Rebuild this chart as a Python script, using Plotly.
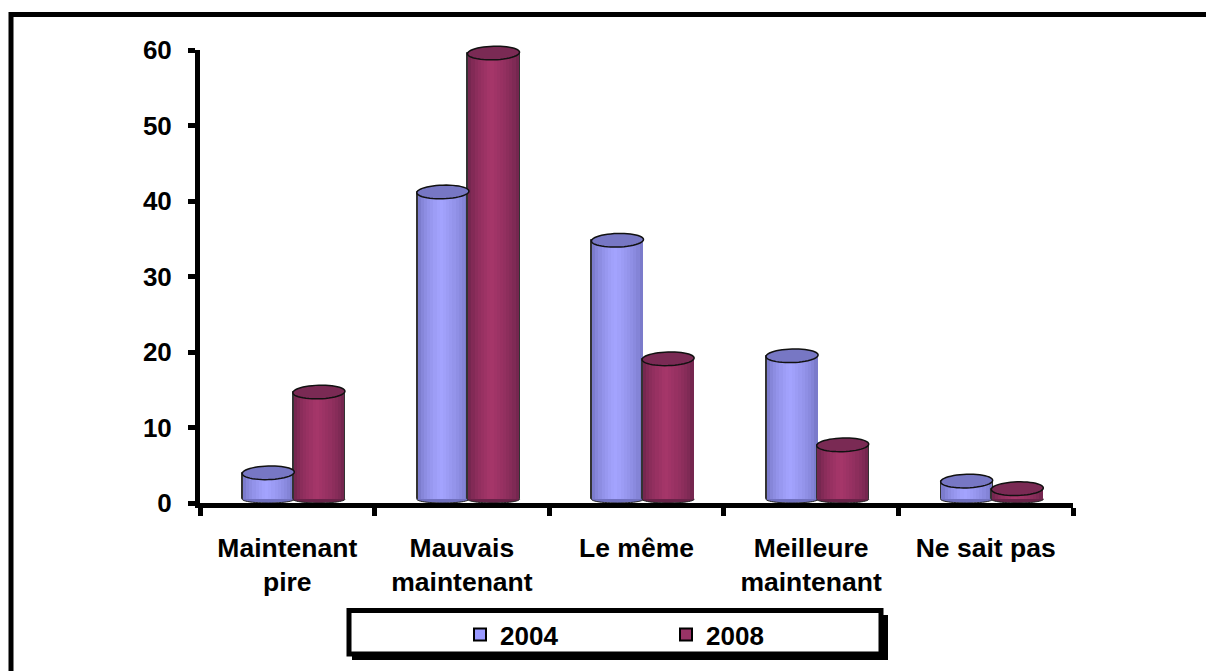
import math
import plotly.graph_objects as go

W, H = 1206, 671
L, R, T, B = 200, 1073, 50, 503

categories = ["Maintenant<br>pire", "Mauvais<br>maintenant", "Le même", "Meilleure<br>maintenant", "Ne sait pas"]
values_2004 = [4.0, 41.2, 34.8, 19.5, 2.9]
values_2008 = [14.7, 59.6, 19.1, 7.7, 1.9]
y_ticks = [0, 10, 20, 30, 40, 50, 60]
Y_MAX = 60

series = [
    dict(name="2004", values=values_2004, start=-0.258, color="#9999FF",
         side=(112, 112, 190), mid=(164, 164, 255), top="#7777C4"),
    dict(name="2008", values=values_2008, start=0.032, color="#993366",
         side=(104, 34, 72), mid=(166, 54, 106), top="#7A2A54"),
]
BAR_W = 0.298
STRIPS = 16
BASE = 0.5
ELL = 0.9
TILT = 0.11


def px(x):
    return (x - L) / (R - L)


def py(y):
    return (B - y) / (B - T)


def ellipse(i, start, v, half_h, tilt):
    """Closed path, in paper units, round a value on the y axis; not clipped by the plot area."""
    x_c = (i + 0.5 + start + BAR_W / 2) / 5
    y_c = v / Y_MAX
    a = BAR_W / 2 / 5
    b = half_h / Y_MAX
    pts = []
    for k in range(48):
        th = 2 * math.pi * k / 48
        dx = a * math.cos(th)
        dy = b * math.sin(th) + tilt * b * math.cos(th)
        pts.append("%s%.5f,%.5f" % ("M" if k == 0 else "L", x_c + dx, y_c + dy))
    return " ".join(pts) + " Z"


fig = go.Figure()
# outer frame comes first so that everything else sits on top of it
shapes = [dict(type="rect", xref="paper", yref="paper", layer="below",
               x0=px(11), x1=px(1240), y0=py(14.5), y1=py(710),
               line=dict(color="black", width=5), fillcolor="white")]

for s in series:
    xs = list(range(len(categories)))
    heights = [v - BASE for v in s["values"]]
    for i, v in enumerate(s["values"]):
        shapes.append(dict(type="path", xref="paper", yref="paper", layer="below",
                           path=ellipse(i, s["start"], BASE, BASE, 0),
                           fillcolor="rgb(%d,%d,%d)" % s["side"], line=dict(color="#222222", width=1)))
    # outline behind the shaded body
    fig.add_trace(go.Bar(x=xs, y=heights, base=BASE, width=BAR_W, offset=s["start"],
                         marker=dict(color="#333333", line=dict(color="#333333", width=1)),
                         showlegend=False, hoverinfo="skip"))
    inset = 0.004
    for k in range(STRIPS):
        t = (k + 0.5) / STRIPS
        f = min(1, t / 0.45) if t < 0.45 else max(0, (1 - t) / 0.55)
        f = f ** 0.55
        col = "rgb(%d,%d,%d)" % tuple(round(a + (b - a) * f) for a, b in zip(s["side"], s["mid"]))
        fig.add_trace(go.Bar(
            x=xs, y=heights, base=BASE,
            width=(BAR_W - 2 * inset) / STRIPS + 0.001,
            offset=s["start"] + inset + (BAR_W - 2 * inset) * k / STRIPS,
            marker=dict(color=col, line=dict(width=0)),
            showlegend=False, hoverinfo="skip",
        ))
    for i, v in enumerate(s["values"]):
        shapes.append(dict(type="path", xref="paper", yref="paper", layer="above",
                           path=ellipse(i, s["start"], v, ELL, TILT),
                           fillcolor=s["top"], line=dict(color="#111111", width=1.5)))
    fig.add_trace(go.Bar(x=[None], y=[None], name=s["name"],
                         marker=dict(color=s["color"], line=dict(color="black", width=2))))

# legend box with drop shadow
shapes.append(dict(type="rect", xref="paper", yref="paper", layer="above",
                   x0=px(352), x1=px(888), y0=py(615), y1=py(660),
                   line=dict(width=0), fillcolor="black"))
shapes.append(dict(type="rect", xref="paper", yref="paper", layer="above",
                   x0=px(349), x1=px(881), y0=py(610.5), y1=py(654),
                   line=dict(color="black", width=5), fillcolor="white"))

fig.update_layout(
    width=W, height=H,
    margin=dict(l=L, r=W - R, t=T, b=H - B, pad=0),
    paper_bgcolor="white", plot_bgcolor="rgba(0,0,0,0)",
    barmode="overlay", bargap=0,
    shapes=shapes,
    font=dict(family="Liberation Sans", size=26, color="black", weight="bold"),
    legend=dict(orientation="h", x=px(460), y=py(611), xanchor="left", yanchor="top",
                bgcolor="rgba(0,0,0,0)", borderwidth=0, entrywidth=161, entrywidthmode="pixels",
                font=dict(size=26, weight="bold"), traceorder="normal"),
    xaxis=dict(range=[-0.5, 4.5], tickvals=list(range(5)), ticktext=categories,
               ticks="", showgrid=False, zeroline=False, showline=True,
               linecolor="black", linewidth=5, layer="above traces",
               ticklabelstandoff=17,
               tickfont=dict(size=26.5, weight="bold"),
               minor=dict(tickvals=[-0.5, 0.5, 1.5, 2.5, 3.5, 4.5], ticks="outside",
                          ticklen=8, tickwidth=5, tickcolor="black", showgrid=False)),
    yaxis=dict(range=[0, Y_MAX], tickvals=y_ticks, ticks="outside", ticklen=7, tickwidth=5,
               tickcolor="black", showgrid=False, zeroline=False, showline=True,
               linecolor="black", linewidth=5, layer="above traces",
               ticklabelstandoff=11,
               tickfont=dict(size=26, weight="bold")),
)

fig.write_html("out.html", config={"displayModeBar": False},
               post_script="document.body.style.margin='0';document.body.style.overflow='hidden';")
